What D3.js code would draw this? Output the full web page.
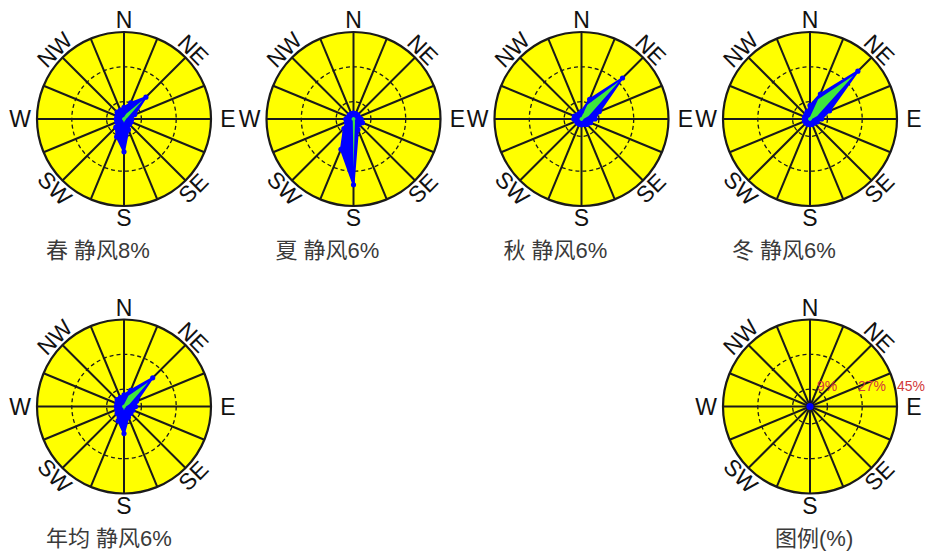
<!DOCTYPE html>
<html>
<head>
<meta charset="utf-8">
<script src="https://cdn.jsdelivr.net/npm/d3@7"></script>
<style>
  html, body { margin: 0; padding: 0; background: #ffffff; }
  svg { display: block; }
</style>
</head>
<body>
<svg id="chart" width="926" height="557"></svg>
<script>
// ---------------- data ----------------
const directions = ["N","NNE","NE","ENE","E","ESE","SE","SSE","S","SSW","SW","WSW","W","WNW","NW","NNW"];
const seasonNames = ["春", "夏", "秋", "冬", "年均"];
const calmPct = [8, 6, 6, 6, 6];

// wind frequency (%) per direction (blue)
const freqSpring = [6, 9, 16, 6, 4, 4, 4, 6, 17, 10, 6, 4, 4, 4, 5, 5];
const freqSummer = [3, 3, 3, 3, 4, 5, 4, 6, 34, 17, 7, 4, 4, 3, 3, 3];
const freqAutumn = [4, 11, 30, 10, 7, 5, 4, 3, 3, 3, 3, 3, 4, 4, 3, 3];
const freqWinter = [7, 14, 35, 11, 6, 4, 3, 3, 3, 3, 3, 3, 3, 3, 3, 4];
const freqAnnual = [6, 9, 21, 7, 6, 5, 5, 6, 14, 8, 5, 4, 4, 4, 5, 5];

// second series (green)
const greenSpring = [1, 3, 14, 2, 1, 1, 1, 1, 2, 1, 1, 1, 1, 1, 1, 1];
const greenSummer = [1, 1, 1, 1, 1, 1, 1, 2, 25, 1, 1, 1, 1, 1, 1, 1];
const greenAutumn = [1, 8, 28, 4, 1, 1, 1, 1, 1, 1, 1, 1, 1, 1, 1, 1];
const greenWinter = [1, 11, 32, 4, 1, 1, 1, 1, 1, 1, 1, 1, 1, 1, 1, 1];
const greenAnnual = [1, 6, 18, 3, 1, 1, 1, 1, 2, 1, 1, 1, 1, 1, 1, 1];

const ringTicks = [9, 27, 45];
const ringLabels = ["9%", "27%", "45%"];
const compassLabels = ["N", "NE", "E", "SE", "S", "SW", "W", "NW"];
const legendTitle = "图例(%)";

// ---------------- layout ----------------
const panels = [
  { cx: 124,   cy: 119,   title: seasonNames[0] + " 静风" + calmPct[0] + "%", blue: freqSpring, green: greenSpring, tx: -78 },
  { cx: 353.5, cy: 119,   title: seasonNames[1] + " 静风" + calmPct[1] + "%", blue: freqSummer, green: greenSummer, tx: -78 },
  { cx: 581.5, cy: 119,   title: seasonNames[2] + " 静风" + calmPct[2] + "%", blue: freqAutumn, green: greenAutumn, tx: -78 },
  { cx: 810,   cy: 119,   title: seasonNames[3] + " 静风" + calmPct[3] + "%", blue: freqWinter, green: greenWinter, tx: -78 },
  { cx: 124,   cy: 406.5, title: seasonNames[4] + " 静风" + calmPct[4] + "%", blue: freqAnnual, green: greenAnnual, tx: -78 },
  { cx: 810,   cy: 406.5, title: legendTitle, blue: null, green: null, tx: -35, legend: true }
];

const R = 87;
const r = d3.scaleLinear().domain([0, 45]).range([0, R]);
const angle = d3.scaleLinear().domain([0, directions.length]).range([0, 2 * Math.PI]);

const svg = d3.select("#chart");
const fontLatin = "'Liberation Sans', Arial, 'Noto Sans CJK SC', sans-serif";

const radialLine = d3.lineRadial()
  .angle((d, i) => angle(i))
  .radius(d => r(d))
  .curve(d3.curveLinearClosed);

panels.forEach(p => {
  const g = svg.append("g").attr("transform", `translate(${p.cx},${p.cy})`);

  g.append("circle").attr("r", R).attr("fill", "#ffff00");

  g.selectAll("circle.ring").data(ringTicks.slice(0, 2)).enter().append("circle")
    .attr("class", "ring")
    .attr("r", d => r(d))
    .attr("fill", "none")
    .attr("stroke", "#1a1a1a")
    .attr("stroke-width", 1.3)
    .attr("stroke-dasharray", "4,3");

  g.selectAll("line.spoke").data(directions).enter().append("line")
    .attr("class", "spoke")
    .attr("x1", 0).attr("y1", 0)
    .attr("x2", (d, i) => R * Math.sin(angle(i)))
    .attr("y2", (d, i) => -R * Math.cos(angle(i)))
    .attr("stroke", "#1a1a1a")
    .attr("stroke-width", 2);

  g.append("circle").attr("r", R).attr("fill", "none")
    .attr("stroke", "#1a1a1a").attr("stroke-width", 2.2);

  if (p.blue) {
    g.append("path").datum(p.blue)
      .attr("d", radialLine)
      .attr("fill", "#0000ff")
      .attr("stroke", "none");
    g.append("path").datum(p.green)
      .attr("d", radialLine)
      .attr("fill", "#3ee63e")
      .attr("stroke", "none");
    g.append("path").datum(p.blue)
      .attr("d", radialLine)
      .attr("fill", "none")
      .attr("stroke", "#0000ff")
      .attr("stroke-width", 2)
      .attr("stroke-linejoin", "round");
    g.selectAll("circle.pt").data(p.blue).enter().append("circle")
      .attr("class", "pt")
      .attr("cx", (d, i) => r(d) * Math.sin(angle(i)))
      .attr("cy", (d, i) => -r(d) * Math.cos(angle(i)))
      .attr("r", 2.6)
      .attr("fill", "#0000ff");
  }

  if (p.legend) {
    g.append("circle").attr("r", 3.6).attr("fill", "#0000ff");
    const lx = [7, 48, 87];
    g.selectAll("text.rl").data(ringLabels).enter().append("text")
      .attr("class", "rl")
      .attr("x", (d, i) => lx[i])
      .attr("y", -16)
      .attr("font-family", fontLatin)
      .attr("font-size", 14)
      .attr("fill", "#d23a3a")
      .text(d => d);
  }

  g.selectAll("text.cl").data(compassLabels).enter().append("text")
    .attr("class", "cl")
    .attr("text-anchor", "middle")
    .attr("dominant-baseline", "central")
    .attr("font-family", fontLatin)
    .attr("font-size", 23)
    .attr("fill", "#111")
    .attr("transform", (d, i) => {
      const a = i * Math.PI / 4;
      const dist = (i % 2 === 1) ? 98 : (i % 4 === 0 ? 99 : 104);
      const x = dist * Math.sin(a), y = -dist * Math.cos(a);
      const rot = (i % 2 === 1) ? ((i === 1 || i === 5) ? 45 : -45) : 0;
      return `translate(${x},${y}) rotate(${rot})`;
    })
    .text(d => d);

  g.append("text")
    .attr("x", p.tx)
    .attr("y", 139)
    .attr("font-family", fontLatin)
    .attr("font-size", 22)
    .attr("fill", "#3a3a3a")
    .text(p.title);
});
</script>
</body>
</html>
